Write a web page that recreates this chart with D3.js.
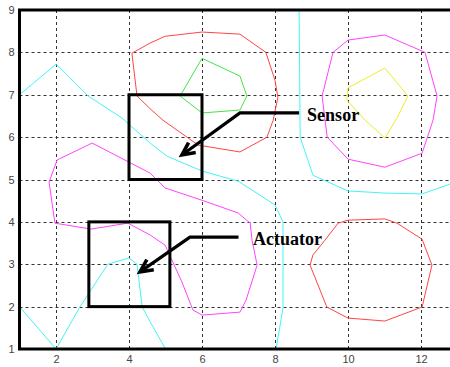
<!DOCTYPE html>
<html>
<head>
<meta charset="utf-8">
<script src="https://cdn.jsdelivr.net/npm/d3@7"></script>
<style>
html,body{margin:0;padding:0;background:#fff;overflow:hidden;}
svg{display:block;}
</style>
</head>
<body>
<svg id="chart" width="450" height="367"></svg>
<script>
// ---- data (plot coordinates) ----
const xTicks = [2, 4, 6, 8, 10, 12];
const yTicks = [1, 2, 3, 4, 5, 6, 7, 8, 9];

const cyanMain = [[5,1],[4.58,1.64],[4.36,2],[4.22,3],[4.0,3.15],[3.42,3],[2.66,2],[2,1],[1,2],[1,7],
  [2,7.72],[2.88,6.97],[3.81,6.45],[4.0,6.3],[4.58,5.86],[5.04,5.55],[6.0,5.2],[6.99,4.96],
  [8.0,4.4],[8.22,4.0],[8.22,1.97],[8.03,1]];
const cyanRight = [[8.66,9],[8.68,7],[8.69,6],[9.04,5.1],[10.0,4.73],[11.01,4.68],[12.03,4.66],[12.79,4.89],[13,4.95]];
const magentaLeft = [[4.58,5.15],[2.99,5.86],[2.03,5.46],[1.81,4.94],[1.97,3.97],[2.96,3.83],[3.97,3.97],
  [4.58,3.69],[4.99,3.45],[5.45,2.58],[5.75,1.92],[6.0,1.8],[7.04,1.87],[7.21,2.16],[7.51,2.98],
  [7.37,3.57],[7.32,3.97],[6.99,4.21],[6.0,4.51],[4.99,4.8]];
const redTop = [[4.08,7.98],[4.22,6.97],[4.58,6.67],[4.93,6.4],[5.9,5.81],[7.04,5.65],[7.78,6.0],[7.95,6.4],
  [8.08,6.94],[8.0,7.34],[7.75,8.0],[7.04,8.43],[6.0,8.48],[4.99,8.38],[4.58,8.22]];
const greenTop = [[6.0,7.86],[7.04,7.44],[7.23,6.97],[7.04,6.64],[6.0,6.57],[5.4,6.97]];
const magentaRight = [[11.01,8.41],[10.0,8.29],[9.59,8.0],[9.29,6.97],[9.43,6.0],[10.0,5.48],[11.01,5.29],
  [12.03,5.62],[12.33,6.4],[12.44,6.97],[12.11,8.0]];
const yellowRight = [[11.01,7.63],[11.64,6.97],[11.34,6.45],[11.01,5.98],[10.47,6.4],[9.97,6.87],[10.0,7.16]];
const redBottom = [[9.73,3.97],[10.0,4.04],[11.01,4.07],[11.34,3.97],[12.03,3.59],[12.3,2.98],[12.03,1.99],
  [11.01,1.66],[10.0,1.73],[9.42,1.99],[8.96,2.98],[9.04,3.22],[9.37,3.57]];

// annotations
const boxLabels = ["Sensor", "Actuator"];
const boxX0 = [4, 2.9];
const boxX1 = [6, 5.12];
const boxY0 = [5, 2];
const boxY1 = [7, 4];
const arrowPts = [
  [[8.66,6.57],[7.04,6.57],[5.45,5.58]],
  [[7.0,3.64],[5.67,3.64],[4.3,2.82]]
];
const labelPos = [[8.88,6.57],[7.4,3.64]];

// ---- drawing ----
const svg = d3.select("#chart");
const x = d3.scaleLinear().domain([1, 13]).range([19.5, 457.5]);
const y = d3.scaleLinear().domain([1, 9]).range([349, 10]);

// grid
const grid = svg.append("g").attr("stroke", "#333").attr("stroke-width", 1).attr("stroke-dasharray", "3,3");
grid.selectAll(".gx").data(xTicks).join("line")
  .attr("x1", d => Math.round(x(d)) + 0.5).attr("x2", d => Math.round(x(d)) + 0.5)
  .attr("y1", y(9)).attr("y2", y(1));
grid.selectAll(".gy").data(yTicks.filter(d => d > 1 && d < 9)).join("line")
  .attr("y1", d => Math.round(y(d)) + 0.5).attr("y2", d => Math.round(y(d)) + 0.5)
  .attr("x1", x(1)).attr("x2", x(13));

// contours
const line = d3.line().x(d => x(d[0])).y(d => y(d[1]));
const closed = d3.line().x(d => x(d[0])).y(d => y(d[1])).curve(d3.curveLinearClosed);
const cg = svg.append("g").attr("fill", "none").attr("stroke-width", 1);
cg.append("path").attr("d", line(cyanMain)).attr("stroke", "#44f4f4");
cg.append("path").attr("d", line(cyanRight)).attr("stroke", "#44f4f4");
cg.append("path").attr("d", closed(magentaLeft)).attr("stroke", "#ff44ff");
cg.append("path").attr("d", closed(redTop)).attr("stroke", "#ff4444");
cg.append("path").attr("d", closed(greenTop)).attr("stroke", "#44e444");
cg.append("path").attr("d", closed(magentaRight)).attr("stroke", "#ff44ff");
cg.append("path").attr("d", closed(yellowRight)).attr("stroke", "#eeee22");
cg.append("path").attr("d", closed(redBottom)).attr("stroke", "#ff4444");

// axes labels
const xAxis = d3.axisBottom(x).tickValues(xTicks).tickSize(0).tickPadding(6).tickFormat(d3.format("d"));
const yAxis = d3.axisLeft(y).tickValues(yTicks).tickSize(0).tickPadding(5).tickFormat(d3.format("d"));
const gx = svg.append("g").attr("transform", `translate(0,${y(1)})`).call(xAxis);
const gy = svg.append("g").attr("transform", `translate(${x(1)},0)`).call(yAxis);
[gx, gy].forEach(g => {
  g.select(".domain").remove();
  g.selectAll("text").attr("font-family", "Liberation Sans, Arial, sans-serif").attr("font-size", 11).attr("fill", "#444");
});

// frame
svg.append("rect").attr("x", x(1)).attr("y", y(9))
  .attr("width", x(13) - x(1)).attr("height", y(1) - y(9))
  .attr("fill", "none").attr("stroke", "#000").attr("stroke-width", 3);

// annotation boxes
const ag = svg.append("g");
ag.selectAll("rect").data(boxLabels).join("rect")
  .attr("x", (d, i) => x(boxX0[i])).attr("y", (d, i) => y(boxY1[i]))
  .attr("width", (d, i) => x(boxX1[i]) - x(boxX0[i]))
  .attr("height", (d, i) => y(boxY0[i]) - y(boxY1[i]))
  .attr("fill", "none").attr("stroke", "#000").attr("stroke-width", 3);

// arrows
arrowPts.forEach(pts => {
  const p = pts.map(d => [x(d[0]), y(d[1])]);
  ag.append("path").attr("d", d3.line()(p)).attr("fill", "none").attr("stroke", "#000").attr("stroke-width", 3.2);
  const tip = p[p.length - 1], prev = p[p.length - 2];
  const ang = Math.atan2(prev[1] - tip[1], prev[0] - tip[0]);
  const L = 14, a = 0.45;
  const h1 = [tip[0] + L * Math.cos(ang + a), tip[1] + L * Math.sin(ang + a)];
  const h2 = [tip[0] + L * Math.cos(ang - a), tip[1] + L * Math.sin(ang - a)];
  ag.append("path").attr("d", d3.line()([h1, tip, h2])).attr("fill", "none")
    .attr("stroke", "#000").attr("stroke-width", 3.5).attr("stroke-linejoin", "miter");
});

ag.selectAll("text").data(boxLabels).join("text")
  .attr("x", (d, i) => x(labelPos[i][0])).attr("y", (d, i) => y(labelPos[i][1]) + 8)
  .attr("font-family", "Liberation Serif, Times New Roman, serif")
  .attr("font-weight", "bold").attr("font-size", 18).attr("fill", "#000")
  .text(d => d);
</script>
</body>
</html>
